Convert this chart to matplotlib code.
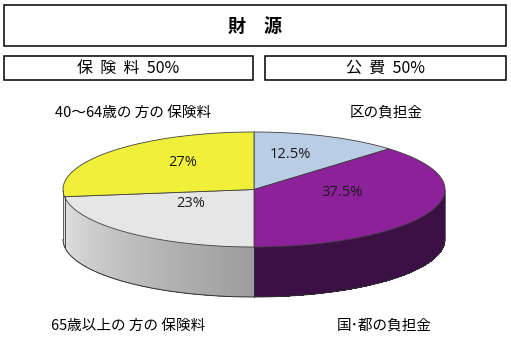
import numpy as np
import matplotlib
matplotlib.use("Agg")
import matplotlib.pyplot as plt
from matplotlib.patches import Rectangle, Polygon
from matplotlib.colors import to_rgb

plt.rcParams['font.family'] = ['Noto Sans CJK JP', 'DejaVu Sans']

# data
title = '財　源'
groups = ['保  険  料  50%', '公  費  50%']
labels = ['区の負担金', '国･都の負担金', '65歳以上の 方の 保険料', '40～64歳の 方の 保険料']
values = [12.5, 37.5, 23, 27]
pct_labels = ['12.5%', '37.5%', '23%', '27%']
top_colors = ['#b9cde5', '#8d2199', '#e6e6e6', '#f0f03a']
side_colors = [('#8ea2bb', '#6f849c'), ('#5e1a6e', '#3a1045'),
               ('#e2e2e2', '#9c9c9c'), ('#dcdcdc', '#dcdcdc')]

fig = plt.figure(figsize=(5.11, 3.57), dpi=100)
ax = fig.add_axes([0, 0, 1, 1])
ax.set_xlim(0, 511)
ax.set_ylim(357, 0)
ax.axis('off')

# header boxes
ax.add_patch(Rectangle((4, 5), 502, 41, fill=False, ec='black', lw=1.1))
ax.text(255, 26, title, ha='center', va='center', fontsize=13, fontweight='bold')
ax.add_patch(Rectangle((4, 56), 249, 24, fill=False, ec='black', lw=1.1))
ax.add_patch(Rectangle((265, 56), 241, 24, fill=False, ec='black', lw=1.1))
ax.text(128, 68.5, groups[0], ha='center', va='center', fontsize=11.5)
ax.text(385, 68.5, groups[1], ha='center', va='center', fontsize=11.5)

# 3d pie geometry
cx, cy, rx, ry, depth = 254, 189.5, 191, 57.5, 50

def pt(t, r=1.0, dy=0):
    return cx + rx * r * np.cos(np.radians(t)), cy - ry * r * np.sin(np.radians(t)) + dy

frac = np.cumsum([0] + values) / sum(values)
starts = 90 - 360 * frac[:-1]
ends = 90 - 360 * frac[1:]

# side faces (front half only), drawn as overlapping strips for a gradient
ts = np.linspace(180, 360, 361)
step = ts[1] - ts[0]
for a, b in zip(ts[:-1], ts[1:]):
    m = (a + b) / 2
    f = ((90 - m) % 360) / 360
    i = np.searchsorted(frac, f) - 1
    s0, s1 = sorted([starts[i] % 360 if starts[i] % 360 >= 180 else 180,
                     ends[i] % 360 if ends[i] % 360 > 180 else 360])
    k = np.clip((m - s0) / max(s1 - s0, 1e-6), 0, 1)
    c0, c1 = np.array(to_rgb(side_colors[i][0])), np.array(to_rgb(side_colors[i][1]))
    c = c0 + (c1 - c0) * k
    p1, p2 = pt(a), pt(min(b + step, 360))
    poly = [p1, p2, (p2[0], p2[1] + depth), (p1[0], p1[1] + depth)]
    ax.add_patch(Polygon(poly, closed=True, fc=c, lw=0, antialiased=False))

# side outlines
arc = np.array([pt(t, dy=depth) for t in ts])
ax.plot(arc[:, 0], arc[:, 1], color='#303030', lw=0.7)
for t in [180, 360]:
    x, y = pt(t)
    ax.plot([x, x], [y, y + depth], color='#505050', lw=0.6)
for e in ends:
    if 180 < e % 360 < 360:
        x, y = pt(e % 360)
        ax.plot([x, x], [y, y + depth], color='#303030', lw=0.6)

# top faces
for i in range(len(values)):
    th = np.linspace(starts[i], ends[i], 120)
    poly = [(cx, cy)] + [pt(t) for t in th]
    ax.add_patch(Polygon(poly, closed=True, fc=top_colors[i], ec='#404040', lw=0.6))

# percentage labels
for i in range(len(values)):
    mid = (starts[i] + ends[i]) / 2
    x, y = pt(mid, r=0.5, dy=-8)
    ax.text(x, y, pct_labels[i], ha='center', va='center', fontsize=10.5,
            family=['Open Sans', 'DejaVu Sans'], color='#1a1a1a')

# category labels
ax.text(386, 113, labels[0], ha='center', va='center', fontsize=10.5)
ax.text(384, 326, labels[1], ha='center', va='center', fontsize=10.5)
ax.text(128, 326, labels[2], ha='center', va='center', fontsize=10.5)
ax.text(133, 113, labels[3], ha='center', va='center', fontsize=10.5)

fig.savefig('out.png', dpi=100)
